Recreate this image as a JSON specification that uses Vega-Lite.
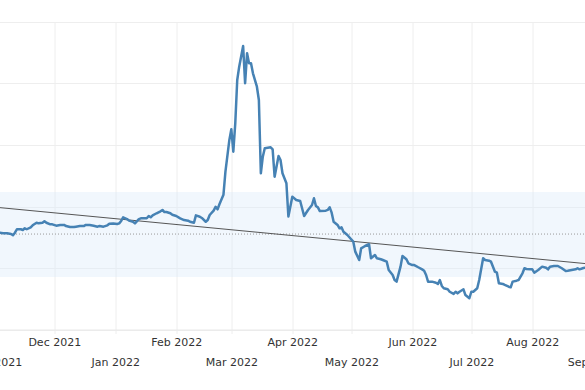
{
  "$schema": "https://vega.github.io/schema/vega-lite/v6.json",
  "autosize": {"type": "none"},
  "width": 629.5,
  "height": 307.5,
  "padding": {"left": -18.5, "top": 22, "right": -26, "bottom": 60.5},
  "background": "#ffffff",
  "config": {"view": {"stroke": null}},
  "datasets": {
    "series": [
      {"d":"2021-11-01","v":78.5},{"d":"2021-11-03","v":78.7},{"d":"2021-11-05","v":78.2},{"d":"2021-11-07","v":78.2},
      {"d":"2021-11-09","v":77.6},{"d":"2021-11-10","v":76.6},{"d":"2021-11-11","v":78.7},{"d":"2021-11-12","v":81.5},
      {"d":"2021-11-14","v":81.5},{"d":"2021-11-15","v":80.9},{"d":"2021-11-16","v":82.3},{"d":"2021-11-17","v":81.5},
      {"d":"2021-11-19","v":83.1},{"d":"2021-11-20","v":84.7},{"d":"2021-11-22","v":86.8},{"d":"2021-11-23","v":86.3},
      {"d":"2021-11-25","v":86.8},{"d":"2021-11-26","v":88.0},{"d":"2021-11-27","v":86.8},{"d":"2021-11-29","v":85.5},
      {"d":"2021-11-30","v":85.5},{"d":"2021-12-02","v":84.4},{"d":"2021-12-04","v":85.0},{"d":"2021-12-06","v":85.0},
      {"d":"2021-12-07","v":84.1},{"d":"2021-12-09","v":83.3},{"d":"2021-12-11","v":83.3},{"d":"2021-12-12","v":83.6},
      {"d":"2021-12-14","v":84.1},{"d":"2021-12-16","v":84.1},{"d":"2021-12-17","v":85.0},{"d":"2021-12-19","v":85.0},
      {"d":"2021-12-21","v":84.4},{"d":"2021-12-23","v":83.6},{"d":"2021-12-24","v":84.1},{"d":"2021-12-26","v":83.6},
      {"d":"2021-12-28","v":84.7},{"d":"2021-12-29","v":86.0},{"d":"2021-12-31","v":86.2},{"d":"2022-01-02","v":85.8},
      {"d":"2022-01-03","v":86.3},{"d":"2022-01-04","v":88.2},{"d":"2022-01-05","v":91.2},{"d":"2022-01-07","v":89.8},
      {"d":"2022-01-08","v":88.5},{"d":"2022-01-10","v":87.6},{"d":"2022-01-11","v":86.3},{"d":"2022-01-13","v":89.8},
      {"d":"2022-01-14","v":90.4},{"d":"2022-01-17","v":90.4},{"d":"2022-01-18","v":92.3},{"d":"2022-01-19","v":91.2},
      {"d":"2022-01-20","v":92.8},{"d":"2022-01-22","v":94.5},{"d":"2022-01-24","v":96.1},{"d":"2022-01-25","v":97.2},
      {"d":"2022-01-26","v":95.5},{"d":"2022-01-27","v":95.5},{"d":"2022-01-29","v":94.5},{"d":"2022-01-30","v":93.3},
      {"d":"2022-02-01","v":92.3},{"d":"2022-02-03","v":90.4},{"d":"2022-02-05","v":89.0},{"d":"2022-02-07","v":88.5},
      {"d":"2022-02-08","v":87.6},{"d":"2022-02-10","v":86.8},{"d":"2022-02-11","v":92.8},{"d":"2022-02-13","v":91.7},
      {"d":"2022-02-14","v":90.7},{"d":"2022-02-16","v":87.6},{"d":"2022-02-17","v":89.0},{"d":"2022-02-18","v":93.1},
      {"d":"2022-02-20","v":96.6},{"d":"2022-02-21","v":99.8},{"d":"2022-02-22","v":97.7},{"d":"2022-02-23","v":102.0},
      {"d":"2022-02-25","v":109.6},{"d":"2022-02-26","v":128.3},{"d":"2022-02-28","v":154.1},{"d":"2022-03-01","v":162.8},
      {"d":"2022-03-02","v":144.6},{"d":"2022-03-03","v":167.6},{"d":"2022-03-04","v":202.8},{"d":"2022-03-05","v":213.7},
      {"d":"2022-03-07","v":230.5},{"d":"2022-03-08","v":200.2},{"d":"2022-03-09","v":224.6},{"d":"2022-03-10","v":216.4},
      {"d":"2022-03-11","v":216.4},{"d":"2022-03-12","v":208.3},{"d":"2022-03-14","v":197.4},{"d":"2022-03-15","v":186.6},
      {"d":"2022-03-16","v":127.0},{"d":"2022-03-17","v":140.5},{"d":"2022-03-18","v":147.3},{"d":"2022-03-21","v":148.1},
      {"d":"2022-03-22","v":146.5},{"d":"2022-03-23","v":124.2},{"d":"2022-03-25","v":141.1},{"d":"2022-03-26","v":137.8},
      {"d":"2022-03-27","v":127.0},{"d":"2022-03-29","v":118.9},{"d":"2022-03-30","v":91.9},{"d":"2022-04-01","v":108.0},
      {"d":"2022-04-03","v":105.3},{"d":"2022-04-05","v":104.5},{"d":"2022-04-07","v":92.3},{"d":"2022-04-09","v":97.2},
      {"d":"2022-04-11","v":101.2},{"d":"2022-04-12","v":106.7},{"d":"2022-04-13","v":100.4},{"d":"2022-04-14","v":99.3},
      {"d":"2022-04-15","v":96.3},{"d":"2022-04-18","v":96.6},{"d":"2022-04-19","v":97.2},{"d":"2022-04-20","v":99.3},
      {"d":"2022-04-21","v":95.0},{"d":"2022-04-22","v":87.6},{"d":"2022-04-24","v":85.0},{"d":"2022-04-25","v":82.3},
      {"d":"2022-04-26","v":83.1},{"d":"2022-04-27","v":79.5},{"d":"2022-04-29","v":76.8},{"d":"2022-04-30","v":75.0},
      {"d":"2022-05-02","v":71.4},{"d":"2022-05-03","v":63.3},{"d":"2022-05-05","v":56.5},{"d":"2022-05-06","v":66.0},
      {"d":"2022-05-08","v":67.9},{"d":"2022-05-10","v":69.3},{"d":"2022-05-11","v":57.9},{"d":"2022-05-13","v":60.6},
      {"d":"2022-05-14","v":57.9},{"d":"2022-05-16","v":57.1},{"d":"2022-05-17","v":56.5},{"d":"2022-05-19","v":55.1},
      {"d":"2022-05-20","v":48.4},{"d":"2022-05-22","v":44.3},{"d":"2022-05-23","v":40.2},{"d":"2022-05-24","v":38.9},
      {"d":"2022-05-26","v":51.1},{"d":"2022-05-27","v":59.8},{"d":"2022-05-29","v":57.1},{"d":"2022-05-30","v":53.8},
      {"d":"2022-06-01","v":52.4},{"d":"2022-06-02","v":52.4},{"d":"2022-06-04","v":50.6},{"d":"2022-06-06","v":48.9},
      {"d":"2022-06-07","v":47.8},{"d":"2022-06-08","v":44.3},{"d":"2022-06-09","v":38.9},{"d":"2022-06-11","v":38.9},
      {"d":"2022-06-13","v":38.0},{"d":"2022-06-14","v":37.0},{"d":"2022-06-15","v":40.2},{"d":"2022-06-16","v":35.4},
      {"d":"2022-06-17","v":33.5},{"d":"2022-06-19","v":32.7},{"d":"2022-06-20","v":30.7},{"d":"2022-06-22","v":28.9},
      {"d":"2022-06-23","v":30.7},{"d":"2022-06-24","v":29.4},{"d":"2022-06-25","v":30.7},{"d":"2022-06-27","v":32.7},
      {"d":"2022-06-28","v":28.0},{"d":"2022-06-30","v":25.4},{"d":"2022-07-01","v":30.7},{"d":"2022-07-02","v":30.7},
      {"d":"2022-07-04","v":33.5},{"d":"2022-07-05","v":40.2},{"d":"2022-07-07","v":57.9},{"d":"2022-07-08","v":56.5},
      {"d":"2022-07-10","v":55.9},{"d":"2022-07-11","v":55.1},{"d":"2022-07-13","v":47.0},{"d":"2022-07-14","v":46.2},
      {"d":"2022-07-15","v":37.6},{"d":"2022-07-17","v":37.0},{"d":"2022-07-18","v":36.2},{"d":"2022-07-20","v":34.8},
      {"d":"2022-07-21","v":34.3},{"d":"2022-07-22","v":38.9},{"d":"2022-07-24","v":39.7},{"d":"2022-07-25","v":40.2},
      {"d":"2022-07-27","v":45.7},{"d":"2022-07-28","v":49.8},{"d":"2022-07-29","v":49.2},{"d":"2022-07-31","v":48.9},
      {"d":"2022-08-01","v":48.9},{"d":"2022-08-02","v":46.2},{"d":"2022-08-04","v":48.4},{"d":"2022-08-06","v":51.1},
      {"d":"2022-08-08","v":50.2},{"d":"2022-08-09","v":48.9},{"d":"2022-08-10","v":51.1},{"d":"2022-08-12","v":51.6},
      {"d":"2022-08-14","v":51.6},{"d":"2022-08-16","v":49.8},{"d":"2022-08-18","v":47.6},{"d":"2022-08-19","v":47.8},
      {"d":"2022-08-21","v":48.4},{"d":"2022-08-23","v":48.9},{"d":"2022-08-24","v":49.8},{"d":"2022-08-25","v":48.9},
      {"d":"2022-08-27","v":50.0},{"d":"2022-08-28","v":50.2},{"d":"2022-08-30","v":50.8}
    ],
    "band": [{"lo": 42.7, "hi": 111.8}],
    "mean": [{"v": 77.6}],
    "trend": [{"d": "2021-10-25", "v": 100.5}, {"d": "2022-09-10", "v": 51.6}]
  },
  "encoding": {
    "x": {
      "field": "d", "type": "temporal",
      "scale": {"type": "utc", "domain": ["2021-10-25", "2022-09-10"], "nice": false},
      "axis": {
        "title": null,
        "labelExpr": "utcFormat(datum.value, '%b %Y')",
        "tickCount": {"interval": "month", "step": 1},
        "grid": true, "gridColor": "#eeeeee", "gridWidth": 1,
        "ticks": true, "tickColor": "#eeeeee", "tickSize": 4,
        "domain": true, "domainColor": "#e8e8e8",
        "labelFont": "DejaVu Sans", "labelFontSize": 11, "labelColor": "#333333",
        "labelOverlap": false, "labelFlush": false, "labelBound": false,
        "labelPadding": {"condition": {"test": "utcmonth(datum.value) % 2 == 1", "value": 3}, "value": 23}
      }
    }
  },
  "layer": [
    {
      "data": {"name": "band"},
      "mark": {"type": "rect", "color": "#dbeaf9", "opacity": 0.4},
      "encoding": {
        "x": null,
        "y": {"field": "lo", "type": "quantitative", "scale": {"domain": [0, 250], "nice": false, "zero": true},
              "axis": {"title": null, "labels": false, "ticks": false, "domain": false, "grid": true,
                       "values": [0, 50, 100, 150, 200, 250], "gridColor": "#eeeeee"}},
        "y2": {"field": "hi"}
      }
    },
    {
      "data": {"name": "mean"},
      "mark": {"type": "rule", "color": "#9a9a9a", "strokeWidth": 1, "strokeDash": [1, 2]},
      "encoding": {"x": null, "y": {"field": "v", "type": "quantitative"}}
    },
    {
      "data": {"name": "trend"},
      "mark": {"type": "line", "color": "#555555", "strokeWidth": 1, "clip": true},
      "encoding": {"y": {"field": "v", "type": "quantitative"}}
    },
    {
      "data": {"name": "series"},
      "mark": {"type": "line", "color": "#4682b4", "strokeWidth": 2.5, "clip": true, "strokeJoin": "round"},
      "encoding": {"y": {"field": "v", "type": "quantitative"}}
    }
  ]
}
